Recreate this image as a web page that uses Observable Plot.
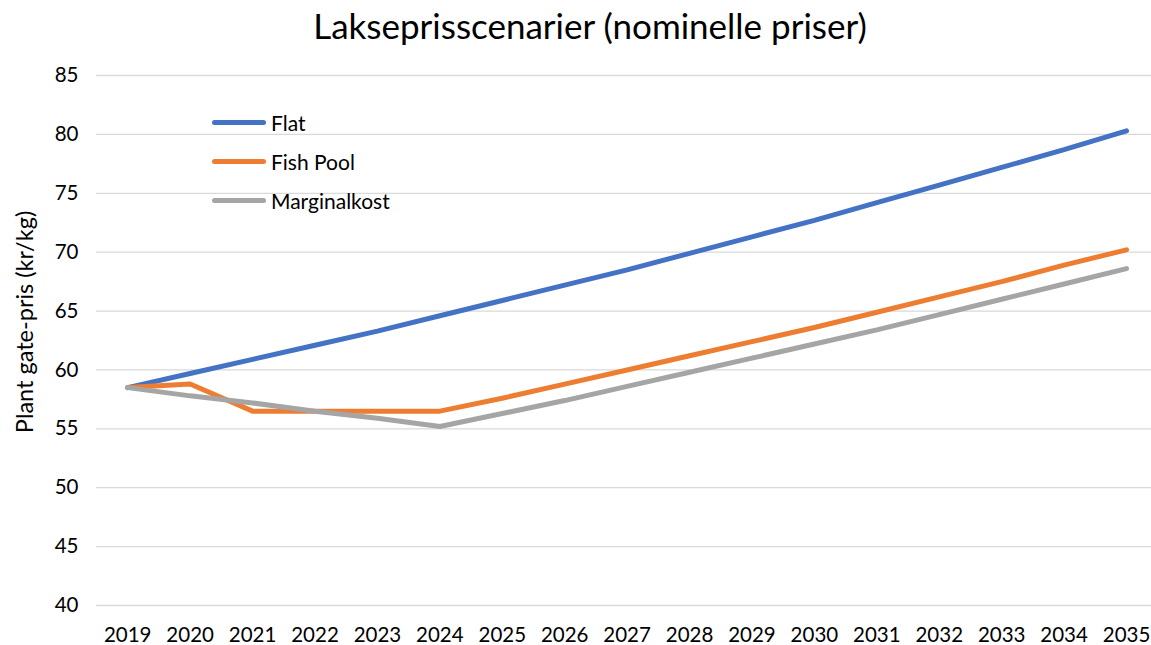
<!DOCTYPE html>
<html>
<head>
<meta charset="utf-8">
<script src="https://cdn.jsdelivr.net/npm/d3@7"></script>
<script src="https://cdn.jsdelivr.net/npm/@observablehq/plot@0.6"></script>
<style>
  body { margin: 0; background: #fff; font-family: Lato, "Open Sans", sans-serif; }
  #wrap { position: relative; width: 1151px; height: 645px; overflow: hidden; }
  #title { position: absolute; left: 0; top: 4px; width: 1180px; text-align: center; font-size: 35px; color: #000; white-space: nowrap; }
  #chart { position: absolute; left: 0; top: 60px; }
  #ylabel { position: absolute; left: 24px; top: 322px; transform: translate(-50%, -50%) rotate(-90deg); font-size: 23.5px; color: #000; white-space: nowrap; }
  #legend { position: absolute; left: 212px; top: 103px; font-size: 21px; color: #000; }
  .item { display: flex; align-items: center; height: 39px; }
  .sw { width: 54px; height: 5px; border-radius: 3px; margin-right: 5px; }
</style>
</head>
<body>
<div id="wrap">
  <div id="title">Lakseprisscenarier (nominelle priser)</div>
  <div id="chart"></div>
  <div id="ylabel"></div>
  <div id="legend"></div>
</div>
<script>
const years = [2019,2020,2021,2022,2023,2024,2025,2026,2027,2028,2029,2030,2031,2032,2033,2034,2035];
const flat = [58.5,59.7,60.9,62.1,63.3,64.6,65.9,67.2,68.5,69.9,71.3,72.7,74.2,75.7,77.2,78.7,80.3];
const fishPool = [58.5,58.8,56.5,56.5,56.5,56.5,57.6,58.8,60.0,61.2,62.4,63.6,64.9,66.2,67.5,68.9,70.2];
const marginalkost = [58.5,57.8,57.2,56.5,55.9,55.2,56.3,57.4,58.6,59.8,61.0,62.2,63.4,64.7,66.0,67.3,68.6];
const seriesNames = ["Flat","Fish Pool","Marginalkost"];
const seriesColors = ["#4472C4","#ED7D31","#A5A5A5"];
const yTicks = [40,45,50,55,60,65,70,75,80,85];
const yLabel = "Plant gate-pris (kr/kg)";

const allSeries = [flat, fishPool, marginalkost];
const data = [];
allSeries.forEach((vals, si) => vals.forEach((v, i) => data.push({year: years[i], value: v, series: seriesNames[si]})));

const chart = Plot.plot({
  width: 1151,
  height: 585,
  marginTop: 15,
  marginBottom: 40,
  marginLeft: 96,
  marginRight: 0,
  style: {fontFamily: "Lato, 'Open Sans', sans-serif", fontSize: "20.5px", color: "#000", background: "#fff"},
  x: {domain: [2018.5, 2035.4], label: null},
  y: {domain: [40, 85], label: null},
  color: {domain: seriesNames, range: seriesColors},
  marks: [
    Plot.ruleY(yTicks, {stroke: "#D9D9D9", strokeWidth: 1.3}),
    Plot.axisY({ticks: yTicks, tickSize: 0, tickPadding: 18, label: null, fontSize: 20.5}),
    Plot.axisX({ticks: years, tickFormat: d => String(d), tickSize: 0, tickPadding: 22, label: null, fontSize: 20.5}),
    Plot.line(data, {x: "year", y: "value", z: "series", stroke: "series", strokeWidth: 5, strokeLinecap: "round", strokeLinejoin: "miter"})
  ]
});
document.getElementById("chart").appendChild(chart);
document.getElementById("ylabel").textContent = yLabel;

const leg = document.getElementById("legend");
seriesNames.forEach((n, i) => {
  const it = document.createElement("div");
  it.className = "item";
  it.innerHTML = `<div class="sw" style="background:${seriesColors[i]}"></div><span>${n}</span>`;
  leg.appendChild(it);
});
</script>
</body>
</html>
